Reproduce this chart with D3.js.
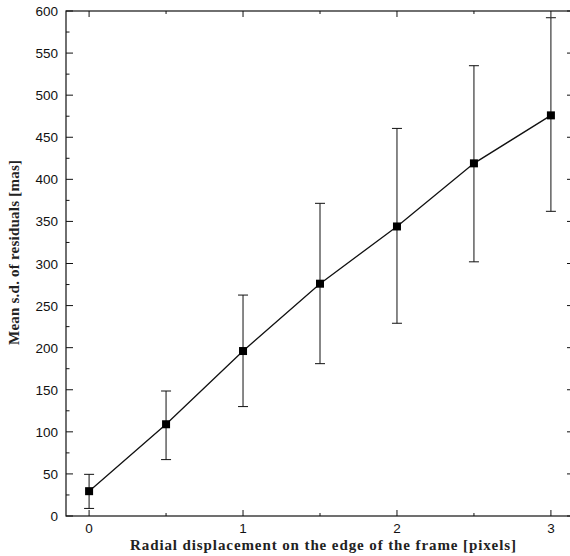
<!DOCTYPE html>
<html lang="en">
<head>
<meta charset="UTF-8">
<script src="https://d3js.org/d3.v7.min.js"></script>
<style>
  body { margin: 0; background: #fff; }
  svg { display: block; }
  .tick-lbl { font-family: "Liberation Sans", Arial, sans-serif; font-size: 13.5px; fill: #111; }
  .axis-lbl { font-family: "Liberation Serif", "DejaVu Serif", serif; font-size: 15px; font-weight: bold; fill: #222; }
</style>
</head>
<body>
<svg id="chart" width="570" height="556"></svg>
<script>
// data
const disp = [0, 0.5, 1, 1.5, 2, 2.5, 3];
const meanSd = [29.5, 109, 196, 276, 344, 419, 476];
const errLow = [9, 67, 130, 181, 229, 302, 362];
const errHigh = [49.5, 148.5, 262.5, 371.5, 460.5, 535, 592];
const xTicks = [0, 1, 2, 3];
const xMinor = [0.5, 1.5, 2.5];
const yTicks = d3.range(0, 601, 50);
const yMinor = d3.range(25, 600, 50);

const svg = d3.select("#chart");
const pLeft = 66, pRight = 574, pTop = 11, pBottom = 516;

const x = d3.scaleLinear().domain([-0.15, 3.15]).range([pLeft, pRight]);
const y = d3.scaleLinear().domain([0, 600]).range([pBottom, pTop]);

const pts = disp.map((d, i) => ({x: d, y: meanSd[i], lo: errLow[i], hi: errHigh[i]}));

// frame
svg.append("rect")
  .attr("x", pLeft).attr("y", pTop)
  .attr("width", pRight - pLeft).attr("height", pBottom - pTop)
  .attr("fill", "none").attr("stroke", "#111").attr("stroke-width", 1.2);

const tk = svg.append("g").attr("stroke", "#111").attr("stroke-width", 1);
// x ticks, bottom and top, pointing in
tk.selectAll(".xb").data(xTicks).join("line")
  .attr("x1", d => x(d)).attr("x2", d => x(d))
  .attr("y1", pBottom).attr("y2", pBottom - 6);
tk.selectAll(".xt").data(xTicks).join("line")
  .attr("x1", d => x(d)).attr("x2", d => x(d))
  .attr("y1", pTop).attr("y2", pTop + 6);
tk.selectAll(".xbm").data(xMinor).join("line")
  .attr("x1", d => x(d)).attr("x2", d => x(d))
  .attr("y1", pBottom).attr("y2", pBottom - 3);
tk.selectAll(".xtm").data(xMinor).join("line")
  .attr("x1", d => x(d)).attr("x2", d => x(d))
  .attr("y1", pTop).attr("y2", pTop + 3);
// y ticks, left and right
tk.selectAll(".yl").data(yTicks).join("line")
  .attr("x1", pLeft).attr("x2", pLeft + 7)
  .attr("y1", d => y(d)).attr("y2", d => y(d));
tk.selectAll(".yr").data(yTicks).join("line")
  .attr("x1", pRight).attr("x2", pRight - 7)
  .attr("y1", d => y(d)).attr("y2", d => y(d));
tk.selectAll(".ylm").data(yMinor).join("line")
  .attr("x1", pLeft).attr("x2", pLeft + 3.5)
  .attr("y1", d => y(d)).attr("y2", d => y(d));
tk.selectAll(".yrm").data(yMinor).join("line")
  .attr("x1", pRight).attr("x2", pRight - 3.5)
  .attr("y1", d => y(d)).attr("y2", d => y(d));

// tick labels
svg.append("g").selectAll("text").data(xTicks).join("text")
  .attr("class", "tick-lbl")
  .attr("x", d => x(d)).attr("y", pBottom + 17)
  .attr("text-anchor", "middle")
  .text(d => d);
svg.append("g").selectAll("text").data(yTicks).join("text")
  .attr("class", "tick-lbl")
  .attr("x", pLeft - 8).attr("y", d => y(d) + 5)
  .attr("text-anchor", "end")
  .text(d => d);

// axis titles (spread to the reference's wide typewriter-like spacing)
svg.append("text").attr("class", "axis-lbl")
  .attr("x", 130).attr("y", 550)
  .attr("textLength", 386).attr("lengthAdjust", "spacing")
  .text("Radial displacement on the edge of the frame [pixels]");
svg.append("text").attr("class", "axis-lbl")
  .attr("transform", "translate(19,345) rotate(-90)")
  .attr("textLength", 185).attr("lengthAdjust", "spacing")
  .text("Mean s.d. of residuals [mas]");

// error bars
const eb = svg.append("g").attr("stroke", "#111").attr("stroke-width", 1);
eb.selectAll(".v").data(pts).join("line")
  .attr("x1", d => x(d.x)).attr("x2", d => x(d.x))
  .attr("y1", d => y(d.lo)).attr("y2", d => y(d.hi));
eb.selectAll(".ch").data(pts).join("line")
  .attr("x1", d => x(d.x) - 5).attr("x2", d => x(d.x) + 5)
  .attr("y1", d => y(d.hi)).attr("y2", d => y(d.hi));
eb.selectAll(".cl").data(pts).join("line")
  .attr("x1", d => x(d.x) - 5).attr("x2", d => x(d.x) + 5)
  .attr("y1", d => y(d.lo)).attr("y2", d => y(d.lo));

// line
svg.append("path").datum(pts)
  .attr("fill", "none").attr("stroke", "#111").attr("stroke-width", 1.3)
  .attr("d", d3.line().x(d => x(d.x)).y(d => y(d.y)));

// markers
svg.append("g").selectAll("rect").data(pts).join("rect")
  .attr("x", d => x(d.x) - 4).attr("y", d => y(d.y) - 4)
  .attr("width", 8).attr("height", 8)
  .attr("fill", "#000");
</script>
</body>
</html>
